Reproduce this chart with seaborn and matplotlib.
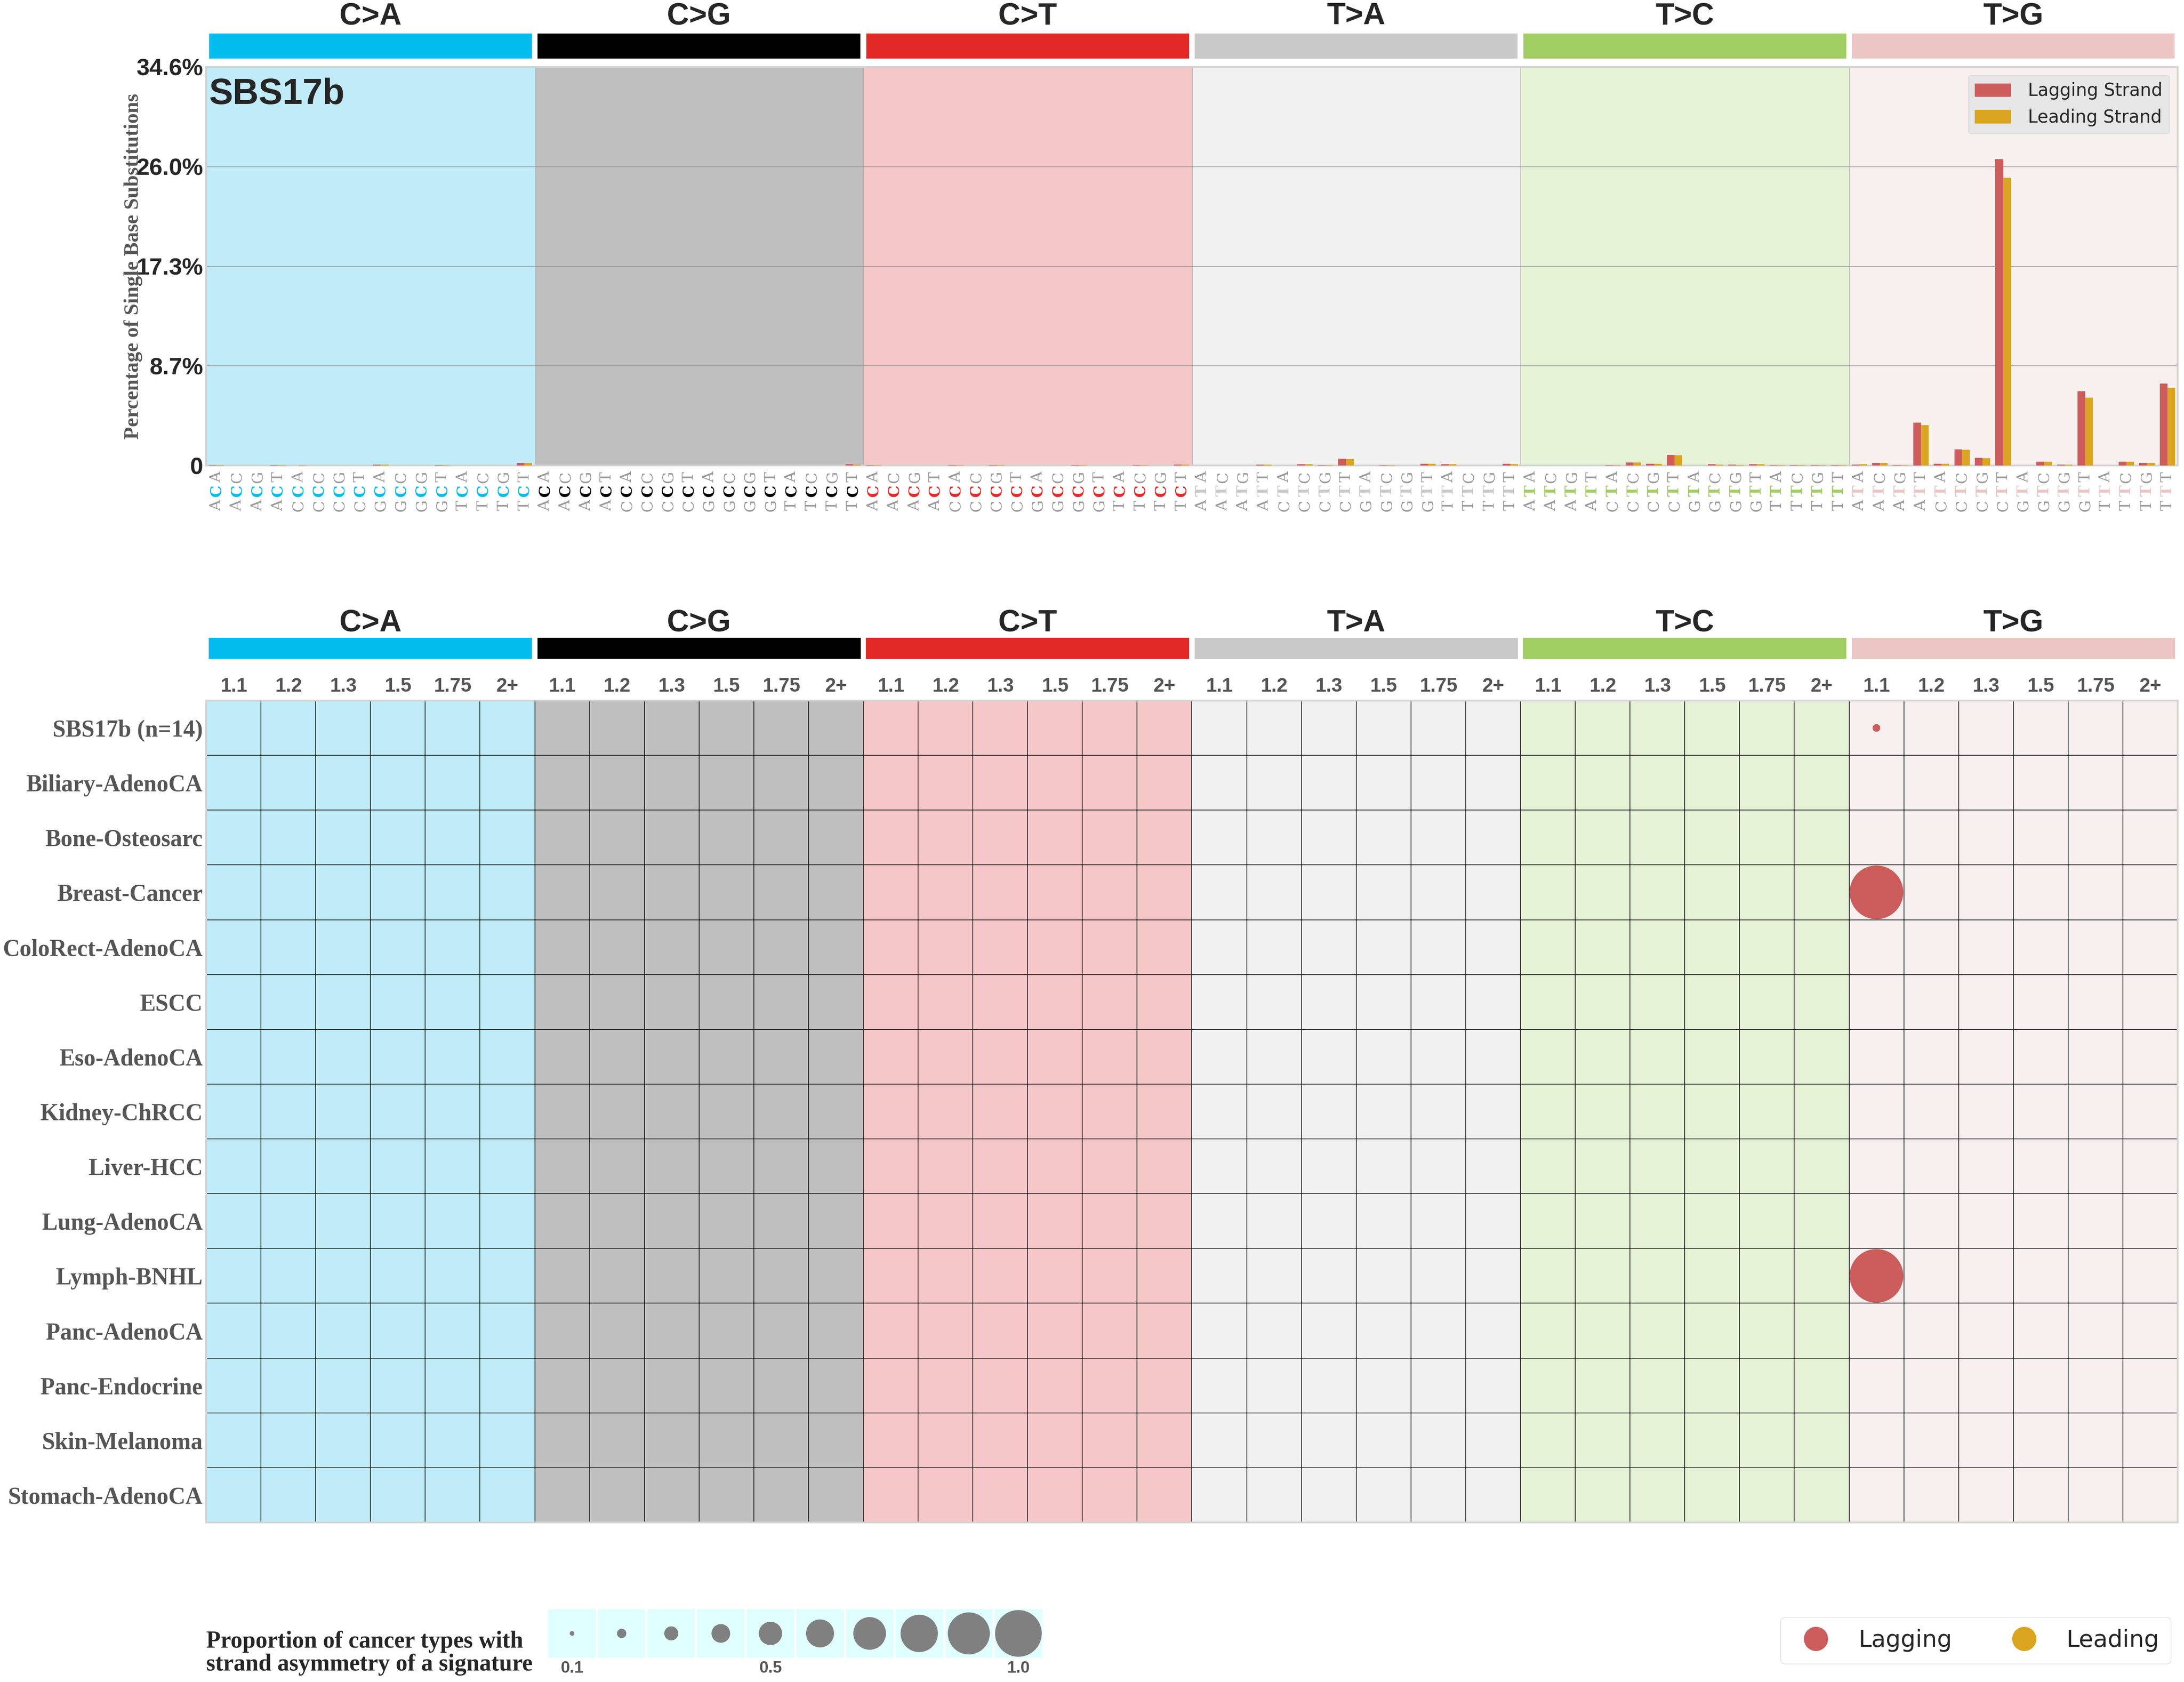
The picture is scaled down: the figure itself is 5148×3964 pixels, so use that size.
import numpy as np
import pandas as pd
import seaborn as sns
import matplotlib.pyplot as plt
from matplotlib.patches import Rectangle, Patch
from matplotlib.lines import Line2D

sns.set_style("white")

SANS = "Liberation Sans"
SERIF = "Liberation Serif"

# ---- data ----
mut_types = ['C>A', 'C>G', 'C>T', 'T>A', 'T>C', 'T>G']
bases = ['A', 'C', 'G', 'T']
type_colors = ['#03bcee', '#010101', '#e32926', '#cac9c9', '#a1ce63', '#ebc6c4']
bg_colors = ['#bfecf8', '#bfbfbf', '#f6c7c8', '#f1f1f1', '#e6f2d6', '#f8f0ee']

# percentage per trinucleotide (5'A..T x 3'A..T) for each substitution
lag_ca = [0.03, 0, 0, 0.03, 0, 0, 0, 0, 0.07, 0, 0, 0.03, 0, 0, 0, 0.22]
lead_ca = [0.03, 0, 0, 0.03, 0.03, 0, 0, 0, 0.07, 0, 0, 0.03, 0, 0, 0, 0.22]
lag_cg = [0, 0, 0, 0, 0, 0, 0, 0, 0, 0, 0, 0, 0, 0, 0, 0.1]
lead_cg = [0, 0, 0, 0, 0, 0, 0, 0, 0, 0, 0, 0, 0, 0, 0, 0.08]
lag_ct = [0.03, 0, 0, 0, 0.03, 0, 0.03, 0, 0, 0, 0.03, 0, 0, 0.03, 0, 0.08]
lead_ct = [0.03, 0, 0, 0, 0.03, 0, 0.03, 0, 0, 0, 0.03, 0, 0, 0.03, 0, 0.06]
lag_ta = [0, 0, 0, 0.07, 0, 0.11, 0.04, 0.59, 0, 0.04, 0, 0.15, 0.11, 0, 0, 0.15]
lead_ta = [0, 0, 0, 0.07, 0, 0.11, 0.04, 0.55, 0, 0.04, 0, 0.15, 0.11, 0, 0, 0.11]
lag_tc = [0, 0, 0, 0, 0.04, 0.24, 0.15, 0.91, 0, 0.12, 0.08, 0.1, 0.05, 0.05, 0.05, 0.05]
lead_tc = [0, 0, 0, 0, 0.04, 0.24, 0.15, 0.88, 0, 0.06, 0.04, 0.1, 0.05, 0.05, 0.05, 0.05]
lag_tg = [0.07, 0.22, 0.05, 3.73, 0.15, 1.4, 0.67, 26.6, 0, 0.33, 0.06, 6.43, 0, 0.33, 0.22, 7.1]
lead_tg = [0.11, 0.22, 0.05, 3.5, 0.15, 1.37, 0.64, 25.0, 0, 0.33, 0.06, 5.88, 0, 0.33, 0.22, 6.74]

y_ticks = [0, 8.65, 17.3, 25.95, 34.6]
y_ticklabels = ['0', '8.7%', '17.3%', '26.0%', '34.6%']

cancer_types = ['SBS17b (n=14)', 'Biliary-AdenoCA', 'Bone-Osteosarc', 'Breast-Cancer',
                'ColoRect-AdenoCA', 'ESCC', 'Eso-AdenoCA', 'Kidney-ChRCC', 'Liver-HCC',
                'Lung-AdenoCA', 'Lymph-BNHL', 'Panc-AdenoCA', 'Panc-Endocrine',
                'Skin-Melanoma', 'Stomach-AdenoCA']
ratio_bins = ['1.1', '1.2', '1.3', '1.5', '1.75', '2+']

# circles in the bottom panel
circ_row = ['SBS17b (n=14)', 'Breast-Cancer', 'Lymph-BNHL']
circ_type = ['T>G', 'T>G', 'T>G']
circ_bin = ['1.1', '1.1', '1.1']
circ_strand = ['Lagging', 'Lagging', 'Lagging']
circ_value = [2 / 14, 1.0, 1.0]

legend_values = [0.1, 0.2, 0.3, 0.4, 0.5, 0.6, 0.7, 0.8, 0.9, 1.0]

lag_color = '#cd5c5c'
lead_color = '#daa520'

# ---- build frames ----
ctx = []
for t in mut_types:
    for b5 in bases:
        for b3 in bases:
            ctx.append(b5 + '[' + t + ']' + b3)
lag_all = lag_ca + lag_cg + lag_ct + lag_ta + lag_tc + lag_tg
lead_all = lead_ca + lead_cg + lead_ct + lead_ta + lead_tc + lead_tg
df = pd.DataFrame({'ctx': ctx * 2,
                   'pct': lag_all + lead_all,
                   'strand': ['Lagging Strand'] * 96 + ['Leading Strand'] * 96})

W, H = 5148, 3964
fig = plt.figure(figsize=(W / 100, H / 100), dpi=100)

L = 486 / W
AW = (5133 - 486) / W

# ---- top panel ----
ax1 = fig.add_axes([L, 1 - 1097 / H, AW, (1097 - 158) / H])
for i, bg in enumerate(bg_colors):
    ax1.axvspan(i * 16 - 0.5, i * 16 + 15.5, color=bg, zorder=0, lw=0)
for i in range(1, 6):
    ax1.axvline(i * 16 - 0.5, color='#b0b0b0', lw=1, zorder=1)
for yt in y_ticks[1:-1]:
    ax1.axhline(yt, color='#999999', lw=1.1, zorder=1)

sns.barplot(data=df, x='ctx', y='pct', hue='strand', order=ctx,
            hue_order=['Lagging Strand', 'Leading Strand'],
            palette=[lag_color, lead_color], saturation=1, width=0.75,
            errorbar=None, legend=False, linewidth=0, zorder=3, ax=ax1)
ax1.set_xlim(-0.5, 95.5)
ax1.set_ylim(0, 34.6)
ax1.set_xlabel('')
ax1.set_xticks([])
ax1.set_yticks(y_ticks)
ax1.set_yticklabels(y_ticklabels, fontsize=40, fontweight='bold', family=SANS)
ax1.tick_params(axis='y', length=0, pad=5)
ax1.set_ylabel('Percentage of Single Base Substitutions', fontsize=35,
               fontweight='bold', family=SERIF, color='#555555')
ax1.yaxis.set_label_coords(-150 / (5133 - 486), 0.5)
for sp in ax1.spines.values():
    sp.set_color('#d3d3d3')
    sp.set_linewidth(3)

ax1.text(0.0015, 0.931, 'SBS17b', transform=ax1.transAxes, fontsize=61,
         fontweight='bold', family=SANS, va='center', ha='left', zorder=5)

ax1.legend(handles=[Patch(color=lag_color, label='Lagging Strand'),
                    Patch(color=lead_color, label='Leading Strand')],
           loc='upper right', fontsize=30, facecolor='#e6e6e6', edgecolor='#dcdcdc',
           framealpha=1, handlelength=2.0, handleheight=0.75, handletextpad=1.0,
           borderaxespad=0.45)

# trinucleotide tick labels drawn letter by letter
ph = 1097 - 158
xt = ax1.get_xaxis_transform()
for k, c in enumerate(ctx):
    ti = k // 16
    ax1.text(k, -94 / ph, c[0], transform=xt, rotation=90, ha='center', va='center',
             fontsize=26, family='DejaVu Serif', color='#999999')
    ax1.text(k, -60 / ph, c[2], transform=xt, rotation=90, ha='center', va='center',
             fontsize=26, family='DejaVu Serif', fontweight='bold', color=type_colors[ti])
    ax1.text(k, -27 / ph, c[-1], transform=xt, rotation=90, ha='center', va='center',
             fontsize=26, family='DejaVu Serif', color='#999999')

# category strip above the top panel
ax0 = fig.add_axes([L, 1 - 138 / H, AW, 59 / H])
ax0.set_xlim(-0.5, 95.5)
ax0.set_ylim(0, 1)
ax0.axis('off')
for i, t in enumerate(mut_types):
    ax0.add_patch(Rectangle((i * 16 - 0.5 + 0.14, 0), 16 - 0.28, 1, color=type_colors[i], lw=0))
    ax0.text(i * 16 + 7.5, 1 + 41 / 59, t, ha='center', va='center', fontsize=52,
             fontweight='bold', family=SANS)

# ---- bottom panel ----
ax2 = fig.add_axes([L, 1 - 3588 / H, AW, (3588 - 1651) / H])
for i, bg in enumerate(bg_colors):
    ax2.axvspan(i * 6, i * 6 + 6, color=bg, zorder=0, lw=0)
for v in range(1, 36):
    ax2.axvline(v, color='black', lw=1.1, zorder=1)
for h in range(1, 15):
    ax2.axhline(h, color='black', lw=1.1, zorder=1)

cell_px = (5133 - 486) / 36
cx = [mut_types.index(t) * 6 + ratio_bins.index(b) + 0.5 for t, b in zip(circ_type, circ_bin)]
cy = [cancer_types.index(r) + 0.5 for r in circ_row]
cs = [(v * cell_px * 0.98 * 0.72) ** 2 for v in circ_value]
circ = pd.DataFrame({'x': cx, 'y': cy, 'strand': circ_strand, 's': cs})
sns.scatterplot(data=circ, x='x', y='y', hue='strand',
                palette={'Lagging': lag_color, 'Leading': lead_color},
                s=circ['s'], linewidth=0, legend=False, zorder=3, ax=ax2)
ax2.set_xlim(0, 36)
ax2.set_ylim(15, 0)
ax2.set_xlabel('')
ax2.set_ylabel('')
ax2.set_yticks(np.arange(15) + 0.5)
ax2.set_yticklabels(cancer_types, fontsize=40, fontweight='bold', family=SERIF, color='#555555')
ax2.xaxis.tick_top()
ax2.set_xticks(np.arange(36) + 0.5)
ax2.set_xticklabels(ratio_bins * 6, fontsize=33, fontweight='bold', family=SANS, color='#555555')
ax2.tick_params(axis='both', length=0)
ax2.tick_params(axis='y', pad=6)
ax2.tick_params(axis='x', pad=8)
for sp in ax2.spines.values():
    sp.set_color('#d3d3d3')
    sp.set_linewidth(3)

# category strip above the bottom panel
ax3 = fig.add_axes([L, 1 - 1553 / H, AW, 50 / H])
ax3.set_xlim(0, 36)
ax3.set_ylim(0, 1)
ax3.axis('off')
for i, t in enumerate(mut_types):
    ax3.add_patch(Rectangle((i * 6 + 0.05, 0), 6 - 0.1, 1, color=type_colors[i], lw=0))
    ax3.text(i * 6 + 3, 1 + 34 / 50, t, ha='center', va='center', fontsize=52,
             fontweight='bold', family=SANS)

# ---- size legend ----
ax4 = fig.add_axes([1290 / W, 1 - 3907 / H, (2459 - 1290) / W, 115 / H])
ax4.set_xlim(0, 10)
ax4.set_ylim(0, 1)
ax4.axis('off')
for i in range(10):
    ax4.add_patch(Rectangle((i + 0.02, 0), 0.96, 1, color='#e0ffff', lw=0, zorder=0))
sns.scatterplot(x=[i + 0.5 for i in range(10)], y=[0.5] * 10,
                s=[(v * 110 * 0.72) ** 2 for v in legend_values],
                color='#808080', linewidth=0, legend=False, zorder=3, ax=ax4)
ax4.set_xlim(0, 10)
ax4.set_ylim(0, 1)
for i, lab in [(0, '0.1'), (4, '0.5'), (9, '1.0')]:
    ax4.text(i + 0.5, -0.22, lab, ha='center', va='center', fontsize=28,
             fontweight='bold', family=SANS, color='#555555')

fig.text(L, 1 - 3896 / H, 'Proportion of cancer types with\nstrand asymmetry of a signature',
         ha='left', va='center', fontsize=40, fontweight='bold', family=SERIF,
         linespacing=1.05)

fig.legend(handles=[Line2D([], [], marker='o', ls='', color=lag_color, markersize=40, label='Lagging'),
                    Line2D([], [], marker='o', ls='', color=lead_color, markersize=40, label='Leading')],
           loc='center', bbox_to_anchor=(4657 / W, 1 - 3866 / H), ncol=2, fontsize=40,
           frameon=True, edgecolor='#dddddd', facecolor='white', framealpha=1,
           handletextpad=0.8, columnspacing=2.05, borderpad=0.5)

fig.savefig('out.png', dpi=100)
